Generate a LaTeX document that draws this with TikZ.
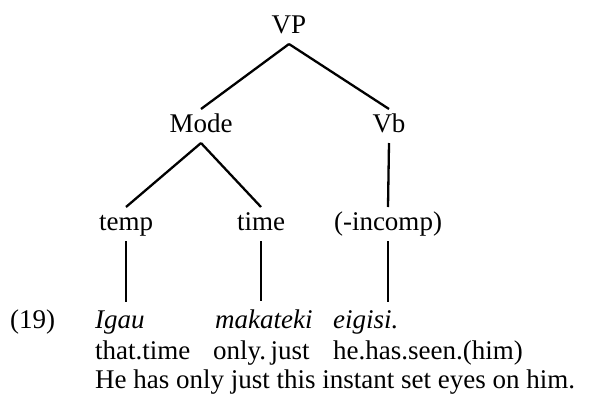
\documentclass[tikz,border=0pt]{standalone}
\usepackage{fontspec}
\setmainfont{Liberation Serif}

\tikzset{
  cat/.style={inner sep=0pt, outer sep=4pt, text height=19pt, text depth=7pt, anchor=base},
  word/.style={inner sep=0pt, anchor=base west},
  branch/.style={line width=2.3pt},
}

\begin{document}
\begin{tikzpicture}[x=1pt,y=-1pt,font=\fontsize{27}{31}\selectfont]
  \useasboundingbox (0,0) rectangle (592,397);

  % categories
  \node[cat] (vp) at (289,33) {VP};
  \node[cat] (mode) at (201,132) {Mode};
  \node[cat] (vb) at (389,132) {Vb};
  \node[cat] (temp) at (126,230) {temp};
  \node[cat] (time) at (261,230) {time};
  \node[cat] (incomp) at (388,230) {(-incomp)};

  % example (19)
  \node[word] (num) at (10,328) {(19)};
  \node[word] (igau) at (95,328) {\itshape Igau};
  \node[word] (makateki) at (215,328) {\itshape makateki};
  \node[word] (eigisi) at (333,328) {\itshape eigisi.};

  \node[word] (gl1) at (95,359) {that.time};
  \node[word] (gl2) at (213,359) {only.\,just};
  \node[word] (gl3) at (333,359) {he.has.seen.(him)};

  \node[word] (trans) at (95,388) {He has only just this instant set eyes on him.};

  % branches
  \draw[branch] (vp.south) -- (mode.north);
  \draw[branch] (vp.south) -- (vb.north);
  \draw[branch] (mode.south) -- (temp.north);
  \draw[branch] (mode.south) -- (time.north);
  \draw[branch] (vb.south) -- (incomp.north);

  \draw[branch,shorten >=8pt] (temp) -- (temp |- igau.north);
  \draw[branch,shorten >=8pt] (time) -- (time |- makateki.north);
  \draw[branch,shorten >=8pt] (incomp) -- (incomp |- eigisi.north);
\end{tikzpicture}
\end{document}
